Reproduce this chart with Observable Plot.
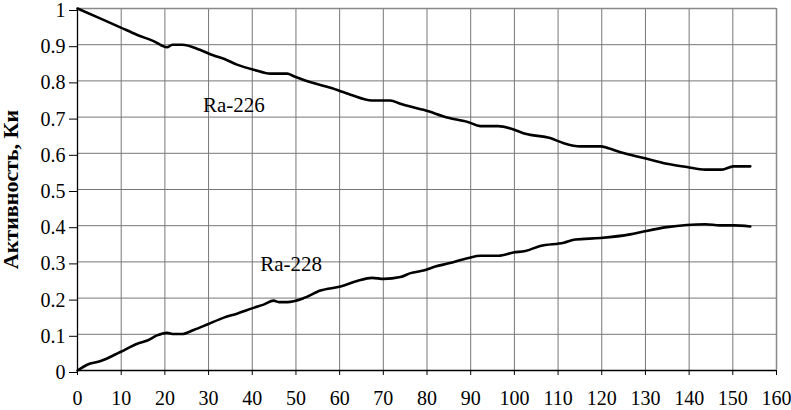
<!DOCTYPE html>
<html>
<head>
<meta charset="utf-8">
<script src="https://cdn.jsdelivr.net/npm/d3@7"></script>
<script src="https://cdn.jsdelivr.net/npm/@observablehq/plot@0.6"></script>
<style>
  html, body { margin: 0; padding: 0; background: #fff; }
  #chart { width: 791px; height: 410px; }
</style>
</head>
<body>
<div id="chart"></div>
<script>
const ra226X = [0, 5.3, 9.8, 13.7, 17.4, 20.5, 21.7, 24, 28, 31.2, 33.5, 36.5, 40.3, 44.2, 48, 49.5, 54, 57.9, 62.5, 67.4, 71.6, 73.9, 76.2, 79.2, 84.9, 89.5, 92.2, 96.3, 99.5, 102.5, 108.2, 111.3, 115.1, 119.7, 121.5, 124.3, 129.6, 134.9, 139.5, 143.7, 147.5, 150.1, 154];
const ra226Y = [1.0, 0.972, 0.948, 0.927, 0.91, 0.893, 0.9, 0.9, 0.886, 0.87, 0.861, 0.845, 0.831, 0.82, 0.82, 0.813, 0.794, 0.781, 0.762, 0.746, 0.746, 0.737, 0.729, 0.72, 0.698, 0.686, 0.675, 0.675, 0.667, 0.654, 0.642, 0.628, 0.619, 0.619, 0.614, 0.603, 0.587, 0.571, 0.562, 0.555, 0.555, 0.564, 0.564];
const ra228X = [0, 2.2, 5.3, 9.8, 13.7, 16, 18.2, 20.5, 22, 24, 26.6, 29.7, 33.5, 36.5, 40.3, 42.6, 44.9, 46.1, 48, 51.8, 55.6, 60.2, 64, 67.4, 70.1, 73.9, 76.2, 79.2, 81.9, 85, 89.5, 92.2, 96.4, 99.8, 102.5, 105.9, 111.3, 114, 119.7, 126.5, 129.6, 134.9, 139.5, 143.7, 147.1, 150.2, 154];
const ra228Y = [0, 0.016, 0.026, 0.051, 0.074, 0.083, 0.097, 0.104, 0.101, 0.101, 0.112, 0.127, 0.146, 0.157, 0.173, 0.182, 0.193, 0.189, 0.189, 0.2, 0.221, 0.232, 0.247, 0.256, 0.253, 0.258, 0.269, 0.276, 0.287, 0.296, 0.311, 0.317, 0.317, 0.326, 0.33, 0.344, 0.353, 0.362, 0.366, 0.376, 0.384, 0.396, 0.402, 0.404, 0.401, 0.401, 0.398];
const labelNames = ["Ra-226", "Ra-228"];
const labelX = [35.8, 48.9];
const labelY = [0.713, 0.274];
const xTicks = d3.range(0, 161, 10);
const yTicks = d3.range(0, 11).map(i => i / 10);
const yTitle = "Активность, Ки";

const s226 = ra226X.map((x, i) => ({x, y: ra226Y[i]}));
const s228 = ra228X.map((x, i) => ({x, y: ra228Y[i]}));
const labels = labelNames.map((t, i) => ({t, x: labelX[i], y: labelY[i]}));

const FONT = "Liberation Serif";

// white boxes with black border behind the series labels (size in pixels around the label anchor)
function labelBoxes(data) {
  return Plot.text(data, {
    x: "x", y: "y", text: () => "",
    render: (index, scales) => {
      const g = d3.create("svg:g");
      for (const i of index) {
        const cx = scales.x(data[i].x), by = scales.y(data[i].y);
        g.append("rect")
          .attr("x", cx - 36.6).attr("y", by - 23.7)
          .attr("width", 75.6).attr("height", 45)
          .attr("fill", "#fff").attr("stroke", "#000").attr("stroke-width", 1.5);
      }
      return g.node();
    }
  });
}

const chart = Plot.plot({
  width: 791,
  height: 410,
  marginLeft: 77,
  marginRight: 15,
  marginTop: 8,
  marginBottom: 40,
  x: {domain: [0, 160], label: null},
  y: {domain: [0, 1], label: null},
  marks: [
    Plot.gridX(xTicks, {stroke: "#777", strokeOpacity: 1, strokeWidth: 1}),
    Plot.gridY(yTicks, {stroke: "#777", strokeOpacity: 1, strokeWidth: 1}),
    Plot.ruleX([160], {stroke: "#888", strokeWidth: 1.5}),
    Plot.ruleY([1], {stroke: "#888", strokeWidth: 1.5}),
    Plot.axisX({ticks: xTicks, tickSize: 5, tickPadding: 15, tickFormat: d => String(d), fontSize: 20, fontFamily: FONT, label: null}),
    Plot.axisY({ticks: yTicks, tickSize: 8, tickPadding: 4, dy: 2, tickFormat: d => String(+d.toFixed(1)), fontSize: 20, fontFamily: FONT, label: null}),
    Plot.ruleX([0], {stroke: "#000", strokeWidth: 1.3}),
    Plot.ruleY([0], {stroke: "#000", strokeWidth: 1.3}),
    Plot.line(s226, {x: "x", y: "y", stroke: "#000", strokeWidth: 2.6, curve: "monotone-x"}),
    Plot.line(s228, {x: "x", y: "y", stroke: "#000", strokeWidth: 2.6, curve: "monotone-x"}),
    labelBoxes(labels),
    Plot.text(labels, {x: "x", y: "y", text: "t", textAnchor: "middle", lineAnchor: "bottom", fontSize: 21, fontFamily: FONT, fill: "#000"}),
    Plot.text([yTitle], {frameAnchor: "left", text: d => d, rotate: -90, dx: -60, textAnchor: "middle", lineAnchor: "bottom", fontSize: 22, fontWeight: "bold", fontFamily: FONT, fill: "#000"})
  ]
});

document.getElementById("chart").appendChild(chart);
</script>
</body>
</html>
